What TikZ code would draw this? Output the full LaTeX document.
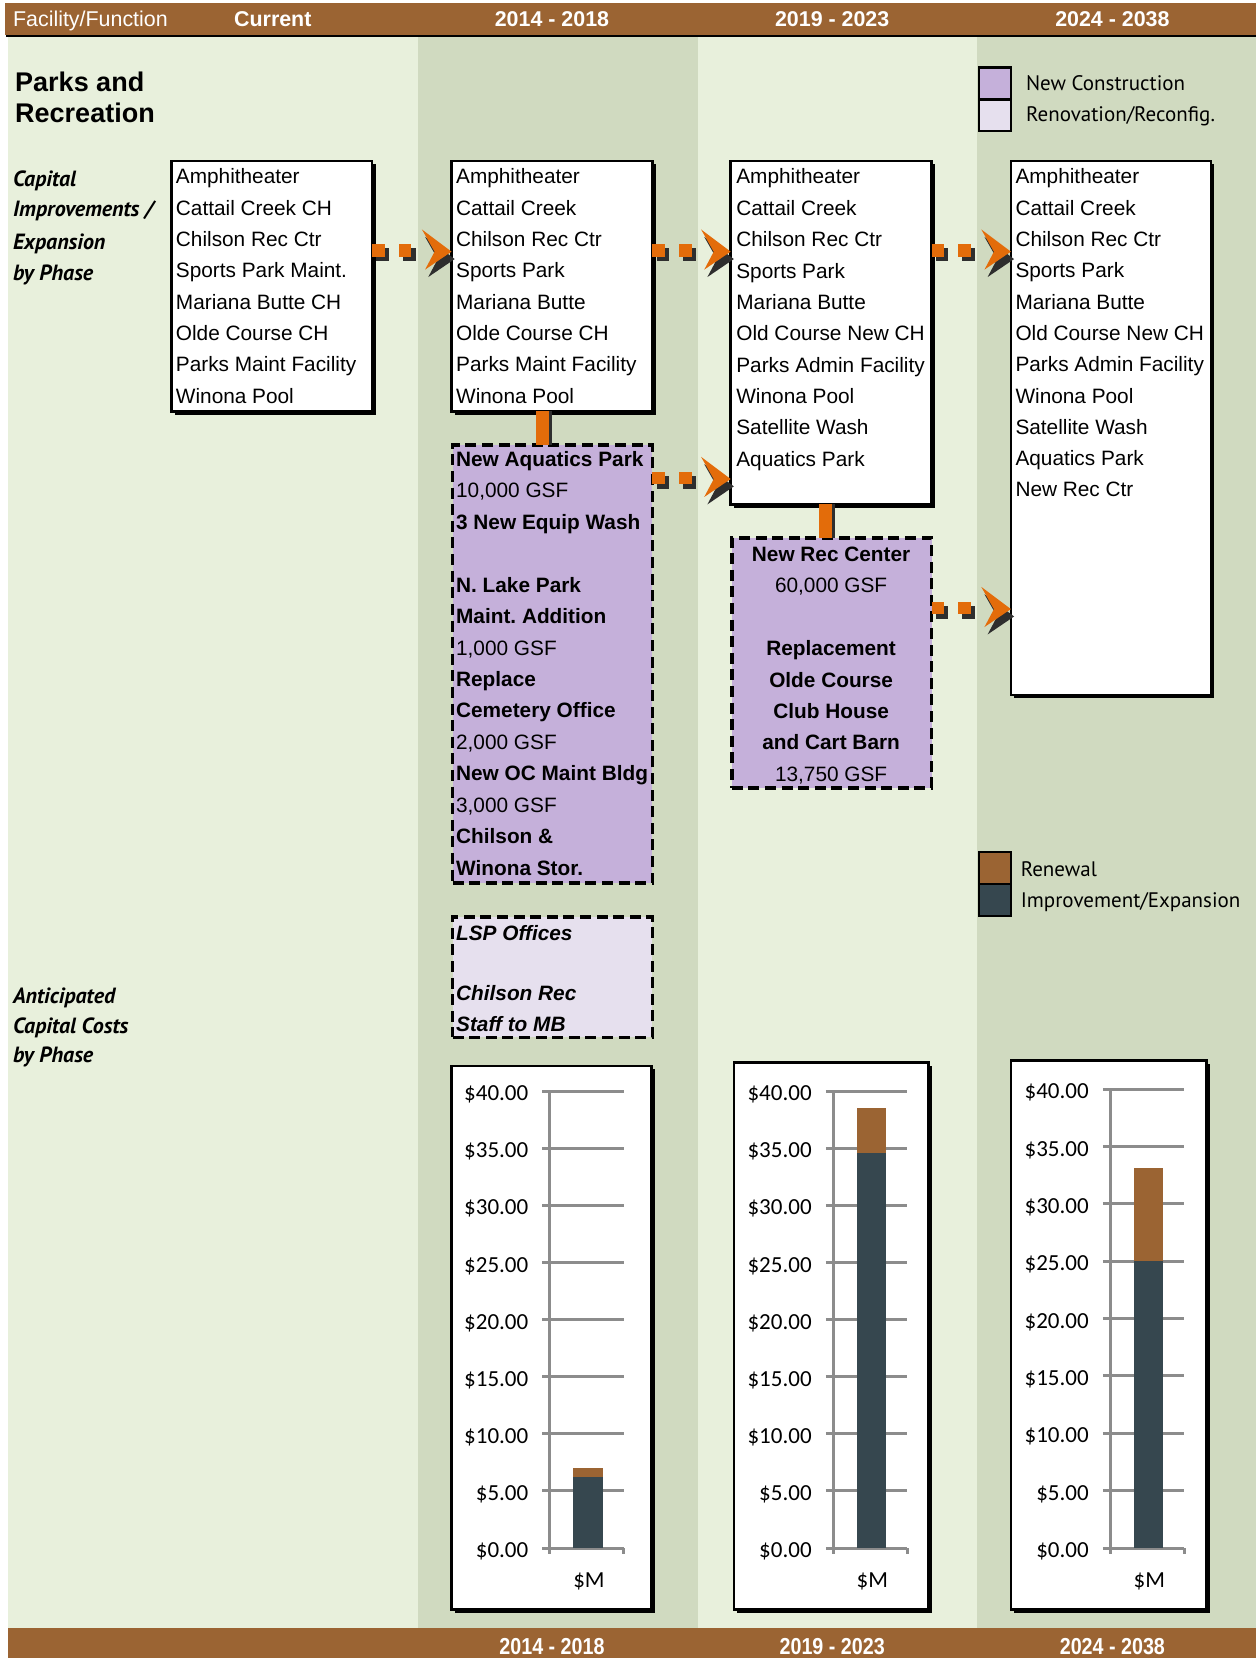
\documentclass[tikz,border=0pt]{standalone}
\usepackage{fontspec}
\setmainfont{Liberation Sans}
\newfontfamily\humfont{PT Sans}
\newfontfamily\chartfont{Carlito}
\usetikzlibrary{calc,shadows}

\definecolor{hdrbrown}{HTML}{9B6433}
\definecolor{lightcol}{HTML}{E8F0DC}
\definecolor{darkcol}{HTML}{D0DAC0}
\definecolor{newcon}{HTML}{C5B0DA}
\definecolor{renov}{HTML}{E6E0EE}
\definecolor{slate}{HTML}{36474F}
\definecolor{arrorange}{HTML}{E36C0A}
\definecolor{arrdark}{HTML}{2E2E2E}
\definecolor{gridgray}{HTML}{8C8C8C}

% lines of text inside a box: #1 name prefix, #2 x, #3 first baseline, #4 step, #5 list
\newcommand\boxlines[5]{%
  \foreach \t [count=\i from 0] in {#5}{%
    \node[boxtext] (#1\i) at (#2,{#3+\i*#4}) {\t};
  }%
}
% centred lines of text
\newcommand\cboxlines[5]{%
  \foreach \t [count=\i from 0] in {#5}{%
    \node[boxtext, anchor=base] (#1\i) at (#2,{#3+\i*#4}) {\t};
  }%
}
% dotted phase arrow from #1 to the tip #2
\newcommand\phasearrow[2]{%
  \foreach \k in {0,1}{%
    \fill[arrdark] ($(#1)+({\k*25+4},-3)$) rectangle ++(12,12);
    \fill[arrorange] ($(#1)+({\k*25},-7)$) rectangle ++(12,12);
  }%
  \fill[arrdark] ($(#2)+(3,7)$) -- ++(-28,-21) -- ++(12,21) -- ++(-9,17) -- cycle;
  \fill[arrorange] (#2) -- ++(-28,-21) -- ++(12,21) -- ++(-9,17) -- cycle;
}
% vertical link between a list box and the box beneath it
\newcommand\vlink[2]{%
  \fill[arrdark] ($(#1)+(-3,0)$) rectangle ($(#2)+(9,0)$);
  \fill[arrorange] ($(#1)+(-6,0)$) rectangle ($(#2)+(6,0)$);
}
% cost chart: #1 name, #2 left, #3 top, #4 width, #5 axis x, #6 y of $40, #7 improvement, #8 total
\newcommand\costchart[8]{%
  \node[listbox, minimum width={#4*0.5286pt}, minimum height={(1522-#3)*0.5286pt}] (#1) at (#2,#3) {};
  \pgfmathsetmacro\dyf{(1464-#6)/40}%
  \foreach \k in {0,...,8}{%
    \pgfmathsetmacro\yy{1464-5*\k*\dyf}%
    \pgfmathtruncatemacro\vv{5*\k}%
    \draw[grid] (#5-7,\yy) -- (#5+70,\yy);
    \node[axlabel] (#1t\k) at (#5-20,\yy+9) {\$\vv.00};
  }%
  \draw[grid] (#5,#6) -- (#5,1470);
  \draw[grid] (#5+70,1464) -- (#5+70,1470);
  \fill[slate] (#5+22,1464) rectangle (#5+50,{1464-#7*\dyf});
  \fill[hdrbrown] (#5+22,{1464-#7*\dyf}) rectangle (#5+50,{1464-#8*\dyf});
  \node[axlabel, anchor=base] (#1m) at (#5+37,1501) {\$M};
}

\begin{document}
\begin{tikzpicture}[x=0.5286pt, y=-0.5286pt,
  listbox/.style={draw=black, line width=1.2pt, fill=white, inner sep=0pt, outer sep=0pt,
    anchor=north west, drop shadow={shadow xshift=1.8pt, shadow yshift=-1.8pt, fill=black, opacity=1}},
  newbox/.style={draw=black, line width=1.8pt, dash pattern=on 5.5pt off 2.8pt, fill=newcon,
    inner sep=0pt, outer sep=0pt, anchor=north west},
  renbox/.style={newbox, fill=renov},
  boxtext/.style={anchor=base west, inner sep=0pt, font=\fontsize{10.4}{12}\selectfont},
  sidelbl/.style={anchor=base west, inner sep=0pt, font=\humfont\bfseries\itshape\fontsize{11}{13}\selectfont},
  legtext/.style={anchor=base west, inner sep=0pt, font=\humfont\fontsize{10.5}{12}\selectfont},
  hdr/.style={anchor=base, inner sep=0pt, text=white, font=\bfseries\fontsize{10.7}{12}\selectfont},
  grid/.style={draw=gridgray, line width=1.5pt},
  axlabel/.style={anchor=base east, inner sep=0pt, font=\chartfont\fontsize{11.5}{13}\selectfont},
  swatch/.style={draw=black, line width=1.2pt, minimum width={30*0.5286pt}, minimum height={30*0.5286pt},
    inner sep=0pt, outer sep=0pt, anchor=north west},
  title/.style={anchor=base west, inner sep=0pt, font=\bfseries\fontsize{13.5}{15}\selectfont}
]
\useasboundingbox (0,0) rectangle (1188,1568);

% phase columns
\fill[lightcol] (8,35) rectangle (395,1540);
\fill[darkcol] (395,35) rectangle (660,1540);
\fill[lightcol] (660,35) rectangle (924,1540);
\fill[darkcol] (924,35) rectangle (1188,1540);

% header band
\fill[hdrbrown] (5,3) rectangle (1188,33);
\draw[black, line width=1.2pt] (6,34) -- (1188,34);
\node[hdr, anchor=base west, font=\fontsize{10.7}{12}\selectfont] (hfac) at (12,25) {Facility/Function};
\node[hdr] (hcur) at (258,25) {Current};
\node[hdr] (hp1) at (522,25) {2014 - 2018};
\node[hdr] (hp2) at (787,25) {2019 - 2023};
\node[hdr] (hp3) at (1052,25) {2024 - 2038};

% footer band
\fill[hdrbrown] (8,1540) rectangle (1188,1568);
\node[hdr] (fp1) at (522,1565) {\scalebox{0.92}[1.08]{2014 - 2018}};
\node[hdr] (fp2) at (787,1565) {\scalebox{0.92}[1.08]{2019 - 2023}};
\node[hdr] (fp3) at (1052,1565) {\scalebox{0.92}[1.08]{2024 - 2038}};

% titles
\node[title] (t1) at (14,87) {Parks and};
\node[title] (t2) at (14,116) {Recreation};
\node[sidelbl] (s1) at (12,176) {Capital};
\node[sidelbl] (s2) at (12,205) {Improvements /};
\node[sidelbl] (s3) at (12,236) {Expansion};
\node[sidelbl] (s4) at (12,265) {by Phase};
\node[sidelbl] (s5) at (12,949) {Anticipated};
\node[sidelbl] (s6) at (12,977) {Capital Costs};
\node[sidelbl] (s7) at (12,1005) {by Phase};

% legends
\node[swatch, fill=newcon] (lg1) at (926,64) {};
\node[swatch, fill=renov] (lg2) at (926,94) {};
\node[legtext] (lg1t) at (970,86) {New Construction};
\node[legtext] (lg2t) at (970,115) {Renovation/Reconfig.};
\node[swatch, fill=hdrbrown] (lg3) at (926,806) {};
\node[swatch, fill=slate] (lg4) at (926,836) {};
\node[legtext] (lg3t) at (965,829) {Renewal};
\node[legtext] (lg4t) at (965,858) {Improvement/Expansion};

% facility lists
\node[listbox, minimum width={190*0.5286pt}, minimum height={237*0.5286pt}] (b1) at (162,152) {};
\node[listbox, minimum width={190*0.5286pt}, minimum height={237*0.5286pt}] (b2) at (427,152) {};
\node[listbox, minimum width={190*0.5286pt}, minimum height={325*0.5286pt}] (b3) at (691,152) {};
\node[listbox, minimum width={189*0.5286pt}, minimum height={505*0.5286pt}] (b4) at (956,152) {};

\boxlines{b1l}{166}{174}{29.6}{Amphitheater, Cattail Creek CH, Chilson Rec Ctr, Sports Park Maint., Mariana Butte CH, Olde Course CH, Parks Maint Facility, Winona Pool}
\boxlines{b2l}{431}{174}{29.6}{Amphitheater, Cattail Creek, Chilson Rec Ctr, Sports Park, Mariana Butte, Olde Course CH, Parks Maint Facility, Winona Pool}
\boxlines{b3l}{696}{174}{29.65}{Amphitheater, Cattail Creek, Chilson Rec Ctr, Sports Park, Mariana Butte, Old Course New CH, Parks Admin Facility, Winona Pool, Satellite Wash, Aquatics Park}
\boxlines{b4l}{960}{174}{29.6}{Amphitheater, Cattail Creek, Chilson Rec Ctr, Sports Park, Mariana Butte, Old Course New CH, Parks Admin Facility, Winona Pool, Satellite Wash, Aquatics Park, New Rec Ctr}

% new construction and renovation boxes
\node[newbox, minimum width={189*0.5286pt}, minimum height={414*0.5286pt}] (p2) at (428,421) {};
\node[newbox, minimum width={189*0.5286pt}, minimum height={236*0.5286pt}] (p3) at (692,509) {};
\node[renbox, minimum width={189*0.5286pt}, minimum height={114*0.5286pt}] (r2) at (428,867) {};

\boxlines{p2l}{431}{441}{29.75}{\textbf{New Aquatics Park}, {10,000 GSF}, \textbf{3 New Equip Wash}, {}, \textbf{N. Lake Park}, \textbf{Maint.\ Addition}, {1,000 GSF}, \textbf{Replace}, \textbf{Cemetery Office}, {2,000 GSF}, \textbf{New OC Maint Bldg}, {3,000 GSF}, \textbf{Chilson \&}, \textbf{Winona Stor.}}
\cboxlines{p3l}{786}{531}{29.7}{\textbf{New Rec Center}, {60,000 GSF}, {}, \textbf{Replacement}, \textbf{Olde Course}, \textbf{Club House}, \textbf{and Cart Barn}, {13,750 GSF}}
\boxlines{r2l}{431}{889}{28.7}{\textbf{\itshape LSP Offices}, {}, \textbf{\itshape Chilson Rec}, \textbf{\itshape Staff to MB}}

% connectors between phases
\coordinate (ya) at (0,238);
\coordinate (yb) at (0,453);
\coordinate (yc) at (0,576);
\phasearrow{b1.east |- ya}{b2.west |- ya}
\phasearrow{b2.east |- ya}{b3.west |- ya}
\phasearrow{b3.east |- ya}{b4.west |- ya}
\phasearrow{p2.east |- yb}{b3.west |- yb}
\phasearrow{p3.east |- yc}{b4.west |- yc}
\coordinate (v2a) at ($(b2.south)+(-9,0)$);
\coordinate (v2b) at (v2a |- p2.north);
\coordinate (v3a) at ($(b3.south)+(-5,0)$);
\coordinate (v3b) at (v3a |- p3.north);
\vlink{v2a}{v2b}
\vlink{v3a}{v3b}

% anticipated capital costs
\costchart{ch1}{427}{1008}{189}{520}{1032}{6.2}{7.0}
\costchart{ch2}{694}{1005}{184}{788}{1032}{34.6}{38.5}
\costchart{ch3}{956}{1003}{185}{1050}{1030}{25.0}{33.1}

\end{tikzpicture}
\end{document}
